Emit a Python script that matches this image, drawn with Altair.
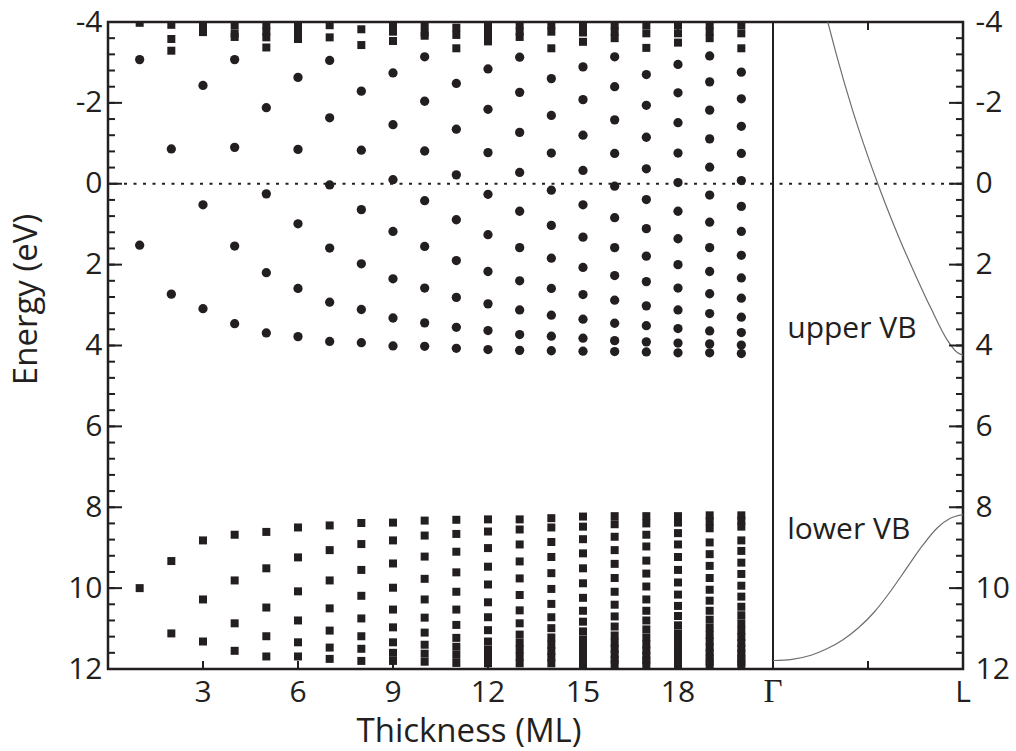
import altair as alt
import pandas as pd

BLACK = "#231f20"
FONT = "Open Sans"

# ---- upper VB quantum-well states (circles), thickness N = 1..20 ----
c1 = [-3.07, 1.52]
c2 = [-0.86, 2.73]
c3 = [-2.43, 0.52, 3.09]
c4 = [-3.07, -0.90, 1.54, 3.46]
c5 = [-1.88, 0.25, 2.20, 3.69]
c6 = [-2.63, -0.85, 0.99, 2.59, 3.78]
c7 = [-3.05, -1.63, 0.03, 1.59, 2.93, 3.90]
c8 = [-2.29, -0.83, 0.64, 1.98, 3.11, 3.93]
c9 = [-2.74, -1.46, -0.10, 1.18, 2.35, 3.32, 4.01]
c10 = [-3.14, -2.04, -0.81, 0.42, 1.55, 2.58, 3.44, 4.02]
c11 = [-2.48, -1.35, -0.22, 0.89, 1.90, 2.81, 3.55, 4.07]
c12 = [-2.84, -1.84, -0.77, 0.26, 1.26, 2.17, 2.97, 3.63, 4.10]
c13 = [-3.13, -2.26, -1.27, -0.28, 0.68, 1.58, 2.40, 3.12, 3.73, 4.12]
c14 = [-2.60, -1.69, -0.76, 0.16, 1.03, 1.84, 2.59, 3.25, 3.77, 4.13]
c15 = [-2.89, -2.08, -1.20, -0.33, 0.52, 1.32, 2.07, 2.74, 3.35, 3.82, 4.14]
c16 = [-3.14, -2.40, -1.58, -0.75, 0.06, 0.84, 1.58, 2.27, 2.88, 3.45, 3.88, 4.15]
c17 = [-2.70, -1.94, -1.15, -0.37, 0.39, 1.11, 1.79, 2.42, 3.02, 3.51, 3.91, 4.16]
c18 = [-2.95, -2.25, -1.51, -0.76, -0.03, 0.68, 1.36, 2.00, 2.58, 3.12, 3.58, 3.94, 4.18]
c19 = [-3.16, -2.52, -1.82, -1.11, -0.41, 0.28, 0.95, 1.58, 2.17, 2.72, 3.21, 3.64, 3.96, 4.18]
c20 = [-2.76, -2.10, -1.42, -0.75, -0.08, 0.56, 1.18, 1.77, 2.33, 2.83, 3.30, 3.68, 3.99, 4.20]

# ---- states near the top edge (squares) ----
t1 = [-3.98]
t2 = [-3.93, -3.58, -3.29]
t3 = [-3.92, -3.75]
t4 = [-3.92, -3.72, -3.63]
t5 = [-3.92, -3.76, -3.62, -3.37]
t6 = [-3.92, -3.74, -3.58]
t7 = [-3.92, -3.62]
t8 = [-3.82, -3.43]
t9 = [-3.88, -3.76, -3.53]
t10 = [-3.92, -3.74, -3.66]
t11 = [-3.86, -3.68, -3.35]
t12 = [-3.92, -3.78, -3.64, -3.52]
t13 = [-3.92, -3.76, -3.63]
t14 = [-3.92, -3.76, -3.35]
t15 = [-3.92, -3.74, -3.51]
t16 = [-3.92, -3.76, -3.60]
t17 = [-3.92, -3.72, -3.36]
t18 = [-3.92, -3.72, -3.49]
t19 = [-3.92, -3.76, -3.60]
t20 = [-3.92, -3.72, -3.35]

# ---- lower VB quantum-well states (squares) ----
s1 = [10.00]
s2 = [9.33, 11.12]
s3 = [8.82, 10.28, 11.32]
s4 = [8.68, 9.81, 10.87, 11.55]
s5 = [8.61, 9.51, 10.48, 11.19, 11.69]
s6 = [8.50, 9.24, 10.08, 10.80, 11.34, 11.69]
s7 = [8.45, 9.06, 9.81, 10.50, 11.05, 11.47, 11.75]
s8 = [8.39, 8.91, 9.55, 10.19, 10.75, 11.19, 11.50, 11.80]
s9 = [8.38, 8.82, 9.39, 9.99, 10.53, 10.97, 11.34, 11.60, 11.80]
s10 = [8.33, 8.70, 9.22, 9.77, 10.28, 10.73, 11.10, 11.40, 11.62, 11.82]
s11 = [8.31, 8.66, 9.10, 9.61, 10.09, 10.53, 10.91, 11.23, 11.45, 11.65, 11.85]
s12 = [8.30, 8.60, 9.01, 9.47, 9.91, 10.35, 10.72, 11.04, 11.32, 11.52, 11.70, 11.86]
s13 = [8.30, 8.55, 8.92, 9.34, 9.76, 10.17, 10.55, 10.87, 11.15, 11.35, 11.52, 11.69, 11.86]
s14 = [8.27, 8.50, 8.86, 9.23, 9.63, 10.02, 10.39, 10.72, 10.99, 11.22, 11.40, 11.56, 11.71, 11.86]
s15 = [8.23, 8.48, 8.79, 9.14, 9.51, 9.88, 10.24, 10.56, 10.83, 11.07, 11.27, 11.44, 11.59, 11.74, 11.88]
s16 = [8.22, 8.42, 8.73, 9.06, 9.40, 9.75, 10.09, 10.41, 10.70, 10.95, 11.17, 11.35, 11.50, 11.64, 11.77, 11.88]
s17 = [8.22, 8.40, 8.68, 8.97, 9.32, 9.64, 9.96, 10.28, 10.56, 10.80, 11.02, 11.22, 11.39, 11.54, 11.67, 11.79, 11.89]
s18 = [8.22, 8.38, 8.64, 8.92, 9.23, 9.55, 9.86, 10.16, 10.44, 10.69, 10.92, 11.12, 11.29, 11.45, 11.58, 11.70, 11.81, 11.90]
s19 = [8.20, 8.35, 8.52, 8.87, 9.16, 9.45, 9.75, 10.04, 10.31, 10.56, 10.78, 10.98, 11.16, 11.32, 11.47, 11.60, 11.72, 11.82, 11.91]
s20 = [8.20, 8.33, 8.48, 8.82, 9.08, 9.37, 9.65, 9.94, 10.21, 10.46, 10.67, 10.87, 11.05, 11.21, 11.36, 11.50, 11.62, 11.73, 11.83, 11.91]

# ---- bulk band dispersion Gamma (21) -> L (27) ----
upper_k = [22.73, 23.0, 23.5, 24.0, 24.31, 24.6, 25.0, 25.5, 26.0, 26.5, 26.8, 27.0]
upper_E = [-4.0, -3.20, -1.85, -0.67, 0.0, 0.60, 1.37, 2.26, 3.10, 3.86, 4.16, 4.24]
lower_k = [21.0, 21.6, 22.2, 22.7, 23.2, 23.7, 24.2, 24.7, 25.2, 25.7, 26.2, 26.6, 27.0]
lower_E = [11.79, 11.76, 11.66, 11.50, 11.28, 10.98, 10.59, 10.09, 9.53, 8.97, 8.50, 8.27, 8.18]

# ---- annotations ----
note_text = ["upper VB", "lower VB"]
note_k = [21.45, 21.45]
note_E = [3.82, 8.78]

# ---- axis ticks / labels ----
x_label_values = [3, 6, 9, 12, 15, 18, 27]
x_label_text = ["3", "6", "9", "12", "15", "18", "L"]
gamma_label = ["Γ"]
x_title = "Thickness (ML)"
x_tick_values = [3, 6, 9, 12, 15, 18, 21, 24]
y_label_values = [-4, -2, 0, 2, 4, 6, 8, 10, 12]
y_minor_values = [round(-4 + 0.4 * i, 2) for i in range(41)]
gamma_k = [21]
zero_E = [0]

circles = [c1, c2, c3, c4, c5, c6, c7, c8, c9, c10, c11, c12, c13, c14, c15, c16, c17, c18, c19, c20]
tops = [t1, t2, t3, t4, t5, t6, t7, t8, t9, t10, t11, t12, t13, t14, t15, t16, t17, t18, t19, t20]
lows = [s1, s2, s3, s4, s5, s6, s7, s8, s9, s10, s11, s12, s13, s14, s15, s16, s17, s18, s19, s20]

df_c = pd.DataFrame([(n + 1, e) for n, col in enumerate(circles) for e in col], columns=["k", "E"])
df_s = pd.DataFrame(
    [(n + 1, e) for n, col in enumerate(tops) for e in col]
    + [(n + 1, e) for n, col in enumerate(lows) for e in col],
    columns=["k", "E"],
)
df_up = pd.DataFrame({"k": upper_k, "E": upper_E})
df_lo = pd.DataFrame({"k": lower_k, "E": lower_E})
df_note = pd.DataFrame({"text": note_text, "k": note_k, "E": note_E})
df_xt = pd.DataFrame({"k": x_tick_values})
df_xl = pd.DataFrame({"k": x_label_values, "text": x_label_text})
df_ymaj = pd.DataFrame({"E": y_label_values})
df_ymin = pd.DataFrame({"E": y_minor_values})
df_gamma = pd.DataFrame({"k": gamma_k, "text": gamma_label})
df_zero = pd.DataFrame({"E": zero_E})
df_xtitle = pd.DataFrame({"text": [x_title]})

W, H = 855, 647
xs = alt.Scale(domain=[0, 27], nice=False, zero=False)
ys = alt.Scale(domain=[-4, 12], reverse=True, nice=False, zero=False)

X = lambda **kw: alt.X("k:Q", scale=xs, **kw)
Y = lambda **kw: alt.Y("E:Q", scale=ys, **kw)

hyphen = "datum.value < 0 ? '-' + format(abs(datum.value), 'd') : format(datum.value, 'd')"

left_axis = alt.Axis(
    orient="left", values=y_label_values, ticks=False, domain=False, grid=False,
    labelExpr=hyphen,
    labelFont=FONT, labelFontSize=30, labelPadding=6, labelColor=BLACK, labelFlush=False,
    title="Energy (eV)", titleFont=FONT, titleFontSize=33, titleFontWeight="normal",
    titleColor=BLACK, titleAngle=270, titleX=-82, titleY=277, titleAlign="center",
    titleBaseline="middle",
)
right_axis = alt.Axis(
    orient="right", values=y_label_values, ticks=False, domain=False, grid=False,
    labelExpr=hyphen,
    labelFont=FONT, labelFontSize=30, labelPadding=12, labelColor=BLACK, labelFlush=False,
    title=None,
)

pts_c = alt.Chart(df_c).mark_circle(size=86, color=BLACK, opacity=1).encode(
    x=X(axis=None), y=Y(axis=None))
pts_s = alt.Chart(df_s).mark_square(size=64, color=BLACK, opacity=1, clip=True).encode(
    x=X(axis=None), y=Y(axis=None))

zero_line = alt.Chart(df_zero).mark_rule(color=BLACK, strokeWidth=2, strokeDash=[3, 6.5]).encode(
    y=Y(axis=None))
gamma_line = alt.Chart(df_gamma).mark_rule(color=BLACK, strokeWidth=2).encode(x=X(axis=None))

# x-axis labels (text on the x scale, below the frame)
x_labels = alt.Chart(df_xl).mark_text(
    font=FONT, fontSize=30, color=BLACK, baseline="alphabetic", align="center"
).encode(x=X(axis=None), y=alt.value(H + 33), text="text:N")
gamma_text = alt.Chart(df_gamma).mark_text(
    font="Liberation Serif", fontSize=33, color=BLACK, baseline="alphabetic", align="center"
).encode(x=X(axis=None), y=alt.value(H + 33), text="text:N")
x_title_text = alt.Chart(df_xtitle).mark_text(
    font=FONT, fontSize=33, color=BLACK, baseline="alphabetic", align="center"
).encode(x=alt.value(361), y=alt.value(H + 73), text="text:N")

curve_up = alt.Chart(df_up).mark_line(color="#6d6e71", strokeWidth=1.2, interpolate="monotone", clip=True).encode(
    x=X(axis=None), y=Y(axis=None), order="k:Q")
curve_lo = alt.Chart(df_lo).mark_line(color="#6d6e71", strokeWidth=1.2, interpolate="monotone", clip=True).encode(
    x=X(axis=None), y=Y(axis=None), order="k:Q")

notes = alt.Chart(df_note).mark_text(
    align="left", baseline="alphabetic", font=FONT, fontSize=30, color=BLACK
).encode(x=X(axis=None), y=Y(axis=None), text="text:N")

# inward ticks
bottom_ticks = alt.Chart(df_xt).mark_rule(color=BLACK, strokeWidth=2).encode(
    x=X(axis=None), y=alt.value(H), y2=alt.value(H - 8))
top_ticks = alt.Chart(df_xt).mark_rule(color=BLACK, strokeWidth=2).encode(
    x=X(axis=None), y=alt.value(0), y2=alt.value(8))
left_major = alt.Chart(df_ymaj).mark_rule(color=BLACK, strokeWidth=2).encode(
    y=Y(axis=left_axis), x=alt.value(0), x2=alt.value(14))
left_minor = alt.Chart(df_ymin).mark_rule(color=BLACK, strokeWidth=2).encode(
    y=Y(axis=None), x=alt.value(0), x2=alt.value(7))
right_major = alt.Chart(df_ymaj).mark_rule(color=BLACK, strokeWidth=2).encode(
    y=Y(axis=right_axis), x=alt.value(W), x2=alt.value(W - 14))
right_minor = alt.Chart(df_ymin).mark_rule(color=BLACK, strokeWidth=2).encode(
    y=Y(axis=None), x=alt.value(W), x2=alt.value(W - 7))

chart = alt.layer(
    zero_line, gamma_line, curve_up, curve_lo, pts_c, pts_s, notes,
    x_labels, gamma_text, x_title_text,
    bottom_ticks, top_ticks, left_major, left_minor, right_major, right_minor,
).resolve_axis(y="independent").properties(
    width=W, height=H,
    autosize=alt.AutoSizeParams(type="none"),
    padding={"left": 108, "top": 22, "right": 1016 - 108 - W, "bottom": 751 - 22 - H},
    background="white",
).configure_view(stroke=BLACK, strokeWidth=2.5)

chart.save("out.html", embed_options={"renderer": "svg", "actions": False})
